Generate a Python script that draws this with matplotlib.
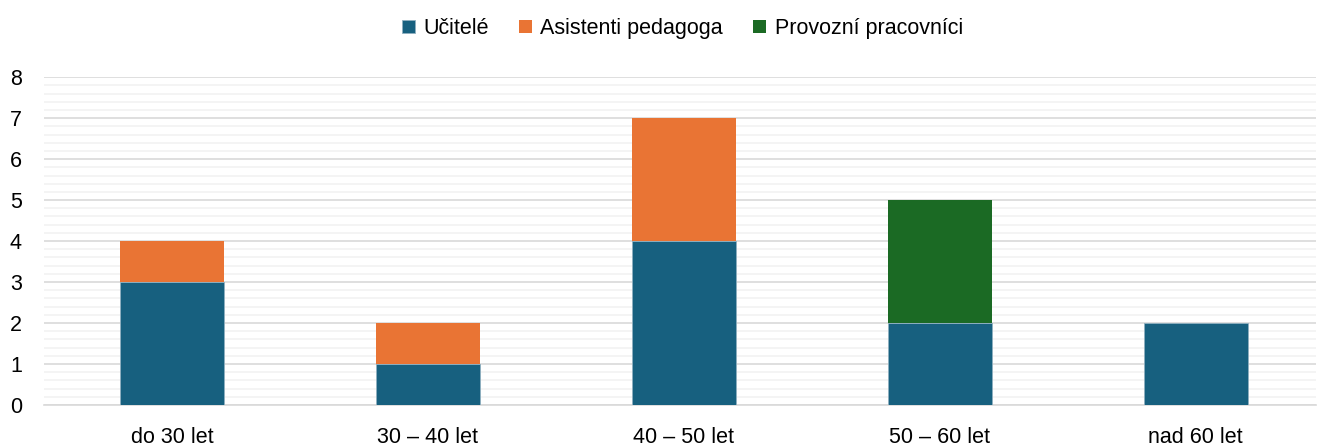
import matplotlib
matplotlib.use("Agg")
import matplotlib.pyplot as plt
import numpy as np
from matplotlib.ticker import MultipleLocator

plt.rcParams['font.family'] = ['Liberation Sans', 'DejaVu Sans']

categories = ["do 30 let", "30 – 40 let", "40 – 50 let", "50 – 60 let", "nad 60 let"]
ucitele = [3, 1, 4, 2, 2]
asistenti = [1, 1, 3, 0, 0]
provozni = [0, 0, 0, 3, 0]

fig = plt.figure(figsize=(13.17, 4.46), dpi=100)
ax = fig.add_axes([44 / 1317, 0.092, 1272 / 1317, 0.735])

x = np.arange(len(categories))
w = 0.406
b1 = np.array(ucitele)
b2 = b1 + np.array(asistenti)
ax.bar(x, ucitele, w, color="#17607F", edgecolor="#8fb0c0", linewidth=0.6, label="Učitelé", zorder=3)
ax.bar(x, asistenti, w, bottom=b1, color="#E97434", label="Asistenti pedagoga", zorder=3)
ax.bar(x, provozni, w, bottom=b2, color="#1B6A24", label="Provozní pracovníci", zorder=3)

ax.set_xlim(-0.5, 4.47)
ax.set_ylim(0, 8)
ax.yaxis.set_major_locator(MultipleLocator(1))
ax.yaxis.set_minor_locator(MultipleLocator(0.2))
ax.grid(axis="y", which="major", color="#d9d9d9", linewidth=1.2, zorder=0)
ax.grid(axis="y", which="minor", color="#f2f2f2", linewidth=1.2, zorder=0)
ax.set_xticks(x)
ax.set_xticklabels(categories)
ax.tick_params(axis="both", which="both", length=0, labelsize=15.5, colors="black")
ax.tick_params(axis="x", pad=16)
ax.tick_params(axis="y", pad=16)
for s in ["top", "right", "left"]:
    ax.spines[s].set_visible(False)
ax.spines["bottom"].set_color("#d9d9d9")
ax.spines["bottom"].set_linewidth(1.2)

fig.legend(loc="upper center", bbox_to_anchor=(0.518, 1.003), ncol=3, frameon=False,
           fontsize=15.5, handlelength=0.6, handleheight=0.6, handletextpad=0.4, columnspacing=1.4)

fig.savefig("out.png", dpi=100)
